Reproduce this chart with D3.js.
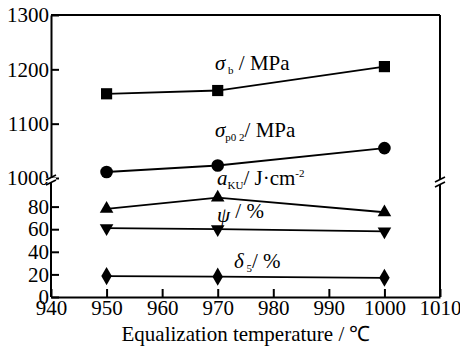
<!DOCTYPE html>
<html>
<head>
<meta charset="utf-8">
<script src="https://cdn.jsdelivr.net/npm/d3@7"></script>
<style>
  body { margin: 0; background: #fff; }
  .axis path, .axis line { stroke: #000; stroke-width: 2; }
</style>
</head>
<body>
<div id="chart"></div>
<script>
(function(d3) {

  'use strict';

  // data
  var temps = [950, 970, 1000];
  var sigmaB = [1155, 1161, 1205];
  var sigmaP = [1011, 1023, 1055];
  var aKU = [78, 88, 75];
  var psi = [61, 60, 58];
  var delta = [18.5, 18, 17];

  var xTicks = [940, 950, 960, 970, 980, 990, 1000, 1010];
  var topTicks = [1000, 1100, 1200, 1300];
  var botTicks = [0, 20, 40, 60, 80];

  var width = 460, height = 352;
  var FONT = '"Liberation Serif", "Times New Roman", Times, serif';

  var svg = d3.select('#chart').append('svg')
    .attr('width', width)
    .attr('height', height)
    .style('font-family', FONT);

  var x = d3.scaleLinear().domain([940, 1010]).range([51, 440]);
  var yTop = d3.scaleLinear().domain([1000, 1300]).range([178, 15]);
  var yBot = d3.scaleLinear().domain([0, 100]).range([297, 184]);

  function styleAxis(g) {
    g.attr('font-family', null).attr('font-size', null);
    g.selectAll('text').style('font-family', FONT).style('font-size', '21px').attr('fill', '#000');
  }

  // frame
  svg.append('line').attr('x1', x(940)).attr('x2', x(1010)).attr('y1', 15).attr('y2', 15)
    .attr('stroke', '#000').attr('stroke-width', 2);
  svg.append('line').attr('x1', x(1010)).attr('x2', x(1010)).attr('y1', 15).attr('y2', 297)
    .attr('stroke', '#000').attr('stroke-width', 2);

  // x axis
  svg.append('g').attr('class', 'axis')
    .attr('transform', 'translate(0,' + yBot(0) + ')')
    .call(d3.axisBottom(x).tickValues(xTicks).tickSizeInner(-8).tickSizeOuter(0).tickPadding(3).tickFormat(d3.format('d')))
    .call(styleAxis);

  // left axes (two segments)
  svg.append('g').attr('class', 'axis')
    .attr('transform', 'translate(' + x(940) + ',0)')
    .call(d3.axisLeft(yTop).tickValues(topTicks).tickSizeInner(-8).tickSizeOuter(0).tickPadding(2).tickFormat(d3.format('d')))
    .call(styleAxis);

  var botAxis = svg.append('g').attr('class', 'axis')
    .attr('transform', 'translate(' + x(940) + ',0)')
    .call(d3.axisLeft(yBot).tickValues(botTicks).tickSizeInner(-8).tickSizeOuter(0).tickPadding(2).tickFormat(d3.format('d')))
    .call(styleAxis);
  botAxis.select('.domain').attr('d', 'M0,' + yBot(0) + 'V' + yTop(1000));

  // axis breaks
  function brk(cx, cy) {
    var g = svg.append('g');
    g.append('rect').attr('x', cx - 5).attr('y', cy - 2).attr('width', 10).attr('height', 4).attr('fill', '#fff');
    [-2.5, 2.5].forEach(function(o) {
      g.append('line')
        .attr('x1', cx - 5).attr('y1', cy + o + 2.5)
        .attr('x2', cx + 5).attr('y2', cy + o - 2.5)
        .attr('stroke', '#000').attr('stroke-width', 1.6);
    });
  }
  brk(x(940), 180);
  brk(x(1010), 182);

  var line = function(y) {
    return d3.line().x(function(d) { return x(d[0]); }).y(function(d) { return y(d[1]); });
  };

  var series = [
    { vals: sigmaB, y: yTop, sym: d3.symbolSquare, size: 125 },
    { vals: sigmaP, y: yTop, sym: d3.symbolCircle, size: 125 },
    { vals: aKU, y: yBot, sym: d3.symbolTriangle, size: 80 },
    { vals: psi, y: yBot, sym: d3.symbolTriangle, size: 80, flip: true },
    { vals: delta, y: yBot, sym: d3.symbolDiamond, size: 95 }
  ];

  series.forEach(function(s) {
    var pts = temps.map(function(t, i) { return [t, s.vals[i]]; });
    svg.append('path').datum(pts)
      .attr('d', line(s.y))
      .attr('fill', 'none').attr('stroke', '#000').attr('stroke-width', 1.8);
    svg.selectAll(null).data(pts).enter().append('path')
      .attr('d', d3.symbol().type(s.sym).size(s.size))
      .attr('transform', function(d) {
        return 'translate(' + x(d[0]) + ',' + s.y(d[1]) + ')' + (s.flip ? ' rotate(180)' : '');
      })
      .attr('fill', '#000');
  });

  // x title
  svg.append('text').attr('x', 246).attr('y', 341).attr('text-anchor', 'middle')
    .style('font-size', '21px').text('Equalization temperature / \u2103');

  // series labels
  function label(xp, yp, main, sub, rest, sup) {
    var t = svg.append('text').attr('x', xp).attr('y', yp).style('font-size', '21px');
    t.append('tspan').style('font-style', 'italic').text(main);
    t.append('tspan').attr('dy', 4).style('font-size', '11px').text(sub);
    t.append('tspan').attr('dy', -4).text(rest);
    if (sup) t.append('tspan').attr('dy', -8).style('font-size', '11px').text(sup);
  }
  label(215, 70, '\u03c3', ' b', '  / MPa');
  label(215, 137, '\u03c3', 'p0 2', '/ MPa');
  label(217, 185, 'a', 'KU', '/ J\u00b7cm', '-2');
  label(217, 222, '\u03c8', '', ' / %');
  label(234, 268, '\u03b4', ' 5', '/ %');

})(d3);
</script>
</body>
</html>
